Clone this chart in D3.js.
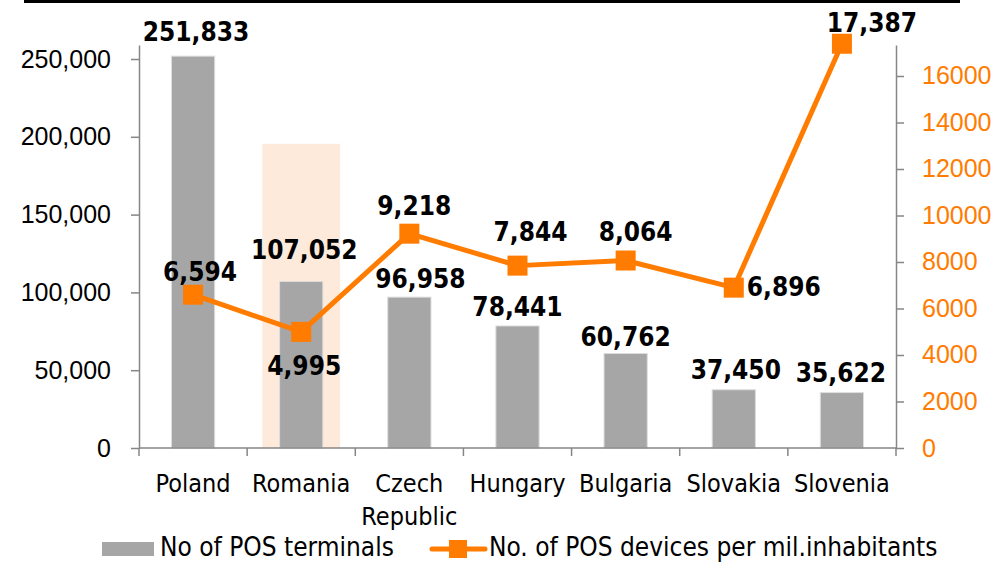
<!DOCTYPE html>
<html>
<head>
<meta charset="utf-8">
<script src="https://cdn.jsdelivr.net/npm/d3@7"></script>
<style>
  body { margin: 0; background: #fff; }
  svg { display: block; font-family: "DejaVu Sans Condensed", "DejaVu Sans", sans-serif; font-stretch: condensed; }
</style>
</head>
<body>
<div id="chart"></div>
<script>
// data
const countries = ["Poland", "Romania", "Czech Republic", "Hungary", "Bulgaria", "Slovakia", "Slovenia"];
const terminals = [251833, 107052, 96958, 78441, 60762, 37450, 35622];
const perMillion = [6594, 4995, 9218, 7844, 8064, 6896, 17387];
const leftTicks = [0, 50000, 100000, 150000, 200000, 250000];
const rightTicks = [0, 2000, 4000, 6000, 8000, 10000, 12000, 14000, 16000];
const highlight = { country: "Romania", top: 195500 };

const width = 996, height = 563;
const margin = { top: 45, right: 100, bottom: 115, left: 139 };
const orange = "#ff7c00", grey = "#a6a6a6", axisGrey = "#868686";

// hand placed label nudges (dx, baseline dy) as in the original
const barLabelPos = [[3, -15], [3, -22], [11, -9], [0, -10], [0, -7], [2, -11], [-1, -11]];
const lineLabelPos = [[7, -14], [3, 43], [5, -19], [13, -25], [10, -20], [50, 8], [30, -12]];

let svg = d3.select("#chart")
    .append("svg")
    .attr("width", width)
    .attr("height", height);

// rule at the very top
svg.append("line")
    .attr("x1", 24).attr("x2", 960)
    .attr("y1", 1.5).attr("y2", 1.5)
    .attr("stroke", "#000").attr("stroke-width", 3);

let g = svg.append("g")
    .attr("transform", `translate(${margin.left}, ${margin.top})`);

const plotW = width - margin.left - margin.right;   // 757
const plotH = height - margin.top - margin.bottom;  // 403

const x = d3.scaleBand().domain(countries).range([0, plotW]).padding(0);
const yL = d3.scaleLinear().domain([0, 259000]).range([plotH, 0]);
const yR = d3.scaleLinear().domain([0, 17333]).range([plotH, 0]);

// highlight box behind Romania
const hw = x.bandwidth() * 0.72;
g.append("rect")
    .attr("x", x(highlight.country) + (x.bandwidth() - hw) / 2)
    .attr("y", yL(highlight.top))
    .attr("width", hw)
    .attr("height", plotH - yL(highlight.top))
    .attr("fill", "#fdeada");

// bars
const bw = x.bandwidth() * 0.4;
g.append("g")
    .selectAll("rect")
    .data(countries)
    .enter()
    .append("rect")
    .attr("x", d => x(d) + (x.bandwidth() - bw) / 2)
    .attr("y", (d, i) => yL(terminals[i]))
    .attr("width", bw)
    .attr("height", (d, i) => plotH - yL(terminals[i]))
    .attr("fill", grey)
    .attr("stroke", "#dedede")
    .attr("stroke-width", 1);

// left axis
let axL = g.append("g")
    .call(d3.axisLeft(yL).tickValues(leftTicks).tickFormat(d3.format(",")).tickSizeInner(8).tickSizeOuter(0).tickPadding(20));
axL.select(".domain").attr("stroke", axisGrey).attr("stroke-width", 1.5);
axL.selectAll(".tick line").attr("stroke", axisGrey).attr("stroke-width", 1.5);
axL.selectAll("text").attr("font-size", 25).attr("fill", "#000").attr("font-family", null);

// right axis
let axR = g.append("g")
    .attr("transform", `translate(${plotW}, 0)`)
    .call(d3.axisRight(yR).tickValues(rightTicks).tickFormat(d => d).tickSizeInner(8).tickSizeOuter(0).tickPadding(18));
axR.select(".domain").attr("stroke", axisGrey).attr("stroke-width", 1.5);
axR.selectAll(".tick line").attr("stroke", axisGrey).attr("stroke-width", 1.5);
axR.selectAll("text").attr("font-size", 25).attr("fill", orange).attr("font-family", null);

// bottom axis: line, boundary ticks and wrapped labels
g.append("line")
    .attr("x1", 0).attr("x2", plotW)
    .attr("y1", plotH).attr("y2", plotH)
    .attr("stroke", axisGrey).attr("stroke-width", 1.5);
g.append("g")
    .selectAll("line")
    .data(countries.concat(["end"]))
    .enter()
    .append("line")
    .attr("x1", (d, i) => i * x.step())
    .attr("x2", (d, i) => i * x.step())
    .attr("y1", plotH).attr("y2", plotH + 8)
    .attr("stroke", axisGrey).attr("stroke-width", 1.5);

let catLabels = g.append("g")
    .selectAll("text")
    .data(countries)
    .enter()
    .append("text")
    .attr("x", d => x(d) + x.bandwidth() / 2)
    .attr("y", plotH + 44)
    .attr("text-anchor", "middle")
    .attr("font-size", 25)
    .attr("fill", "#000");
catLabels.each(function(d) {
    const words = d === "Czech Republic" ? ["Czech", "Republic"] : [d];
    const t = d3.select(this);
    words.forEach((w, k) => {
        t.append("tspan")
            .attr("x", x(d) + x.bandwidth() / 2)
            .attr("dy", k === 0 ? 0 : 33)
            .text(w);
    });
});

// line series
const line = d3.line()
    .x((d, i) => x(countries[i]) + x.bandwidth() / 2)
    .y(d => yR(d));
g.append("path")
    .datum(perMillion)
    .attr("d", line)
    .attr("fill", "none")
    .attr("stroke", orange)
    .attr("stroke-width", 5)
    .attr("stroke-linejoin", "round");

const ms = 20;
g.append("g")
    .selectAll("rect")
    .data(perMillion)
    .enter()
    .append("rect")
    .attr("x", (d, i) => x(countries[i]) + x.bandwidth() / 2 - ms / 2)
    .attr("y", d => yR(d) - ms / 2)
    .attr("width", ms).attr("height", ms)
    .attr("fill", orange);

// data labels
const fmt = d3.format(",");
g.append("g")
    .selectAll("text")
    .data(terminals)
    .enter()
    .append("text")
    .attr("x", (d, i) => x(countries[i]) + x.bandwidth() / 2 + barLabelPos[i][0])
    .attr("y", (d, i) => yL(d) + barLabelPos[i][1])
    .attr("text-anchor", "middle")
    .attr("font-size", 26)
    .attr("font-weight", "bold")
    .text(d => fmt(d));

g.append("g")
    .selectAll("text")
    .data(perMillion)
    .enter()
    .append("text")
    .attr("x", (d, i) => x(countries[i]) + x.bandwidth() / 2 + lineLabelPos[i][0])
    .attr("y", (d, i) => yR(d) + lineLabelPos[i][1])
    .attr("text-anchor", "middle")
    .attr("font-size", 26)
    .attr("font-weight", "bold")
    .text(d => fmt(d));

// legend (sits at the bottom edge, as in the original)
let legend = svg.append("g");
legend.append("rect")
    .attr("x", 102).attr("y", 542).attr("width", 52).attr("height", 14)
    .attr("fill", grey);
legend.append("text")
    .attr("x", 160).attr("y", 556)
    .attr("font-size", 26)
    .text("No of POS terminals");
legend.append("line")
    .attr("x1", 432).attr("x2", 485).attr("y1", 549).attr("y2", 549)
    .attr("stroke", orange).attr("stroke-width", 5).attr("stroke-linecap", "round");
legend.append("rect")
    .attr("x", 449).attr("y", 540).attr("width", 18).attr("height", 18)
    .attr("fill", orange);
legend.append("text")
    .attr("x", 489).attr("y", 556)
    .attr("font-size", 26)
    .text("No. of POS devices per mil.inhabitants");
</script>
</body>
</html>
